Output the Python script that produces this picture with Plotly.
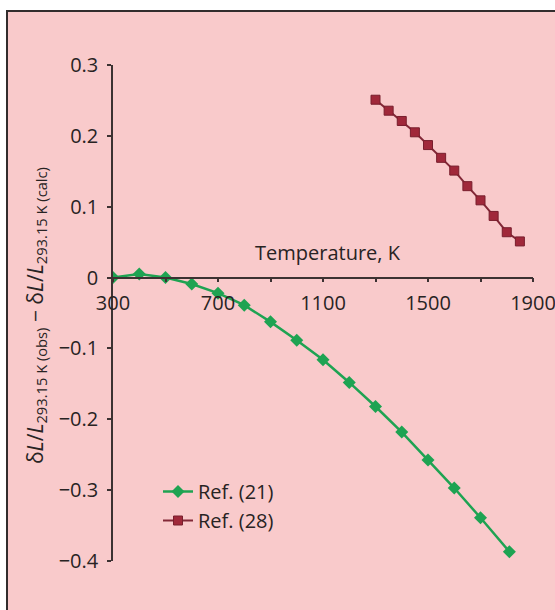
import plotly.graph_objects as go

# Ref. (21)
t21 = [300, 400, 500, 600, 700, 800, 900, 1000, 1100, 1200, 1300, 1400, 1500, 1600, 1700, 1810]
v21 = [0.0, 0.005, 0.0, -0.009, -0.022, -0.039, -0.0625, -0.0885, -0.116, -0.148,
       -0.182, -0.218, -0.2575, -0.297, -0.339, -0.387]

# Ref. (28)
t28 = [1300, 1350, 1400, 1450, 1500, 1550, 1600, 1650, 1700, 1750, 1800, 1850]
v28 = [0.251, 0.2355, 0.221, 0.205, 0.187, 0.169, 0.151, 0.129, 0.109, 0.087, 0.064, 0.051]

x_tickvals = [300, 700, 1100, 1500, 1900]
x_ticktext = ["300", "700", "1100", "1500", "1900"]
y_tickvals = [-0.4, -0.3, -0.2, -0.1, 0, 0.1, 0.2, 0.3]
y_ticktext = ["\u22120.4", "\u22120.3", "\u22120.2", "\u22120.1", "0", "0.1", "0.2", "0.3"]

PINK = "rgb(249,202,203)"
GREEN = "rgb(30,163,82)"
RED = "rgb(160,40,58)"
AX = "rgb(60,50,50)"
FONT = "Open Sans"

fig = go.Figure()
fig.add_trace(go.Scatter(
    x=t21, y=v21, name="Ref. (21)", mode="lines+markers",
    line=dict(color=GREEN, width=2.5),
    marker=dict(symbol="diamond", size=10, color=GREEN),
))
fig.add_trace(go.Scatter(
    x=t28, y=v28, name="Ref. (28)", mode="lines+markers",
    line=dict(color="rgb(130,40,55)", width=2),
    marker=dict(symbol="square", size=9, color=RED,
                line=dict(color="rgb(120,30,45)", width=1)),
))

W, H = 555, 610
ml, mr, mt, mb = 113, 22, 65, 49
pw, ph = W - ml - mr, H - mt - mb

def px_x(p):
    return (p - ml) / pw

def px_y(p):
    return (H - mb - p) / ph

fig.update_layout(
    width=W, height=H,
    margin=dict(l=ml, r=mr, t=mt, b=mb, pad=0, autoexpand=False),
    paper_bgcolor="white",
    plot_bgcolor="rgba(0,0,0,0)",
    font=dict(family=FONT, size=20, color="rgb(40,35,35)"),
    showlegend=True,
    legend=dict(x=px_x(158), y=px_y(472), xanchor="left", yanchor="top",
                bgcolor="rgba(0,0,0,0)", font=dict(size=20), tracegroupgap=0),
    xaxis=dict(range=[300, 1900], anchor="free", position=0.4 / 0.7,
               automargin=False,
               showline=True, linecolor=AX, linewidth=1.5,
               ticks="outside", ticklen=4, tickcolor=AX, tickwidth=1.5,
               tickvals=x_tickvals, ticktext=x_ticktext,
               ticklabeloverflow="allow",
               minor=dict(tick0=300, dtick=200, ticks="outside", ticklen=4,
                          tickcolor=AX, tickwidth=1.5, showgrid=False),
               showgrid=False, zeroline=False, ticklabelstandoff=4),
    yaxis=dict(range=[-0.4, 0.3], domain=[0, 1], automargin=False,
               showline=True, linecolor=AX, linewidth=1.5,
               ticks="outside", ticklen=4, tickcolor=AX, tickwidth=1.5,
               tickvals=y_tickvals, ticktext=y_ticktext,
               showgrid=False, zeroline=False, ticklabelstandoff=5),
    shapes=[dict(type="rect", xref="paper", yref="paper",
                 x0=px_x(7), x1=px_x(600), y0=px_y(650), y1=px_y(11),
                 fillcolor=PINK, line=dict(color="rgb(50,45,45)", width=2),
                 layer="below")],
    annotations=[
        dict(text="Temperature, K", xref="paper", yref="paper",
             x=px_x(328), y=px_y(268), xanchor="center", yanchor="bottom",
             showarrow=False, font=dict(size=20)),
        dict(text="\u03b4<i>L</i>/<i>L</i><sub>293.15 K (obs)</sub> \u2212 \u03b4<i>L</i>/<i>L</i><sub>293.15 K (calc)</sub>",
             xref="paper", yref="paper", x=px_x(36), y=px_y(316),
             xanchor="center", yanchor="middle", textangle=-90,
             showarrow=False, font=dict(size=21)),
    ],
)

fig.write_html("out.html", config={"displayModeBar": False},
               post_script="document.body.style.margin='0';document.body.style.overflow='hidden';")
